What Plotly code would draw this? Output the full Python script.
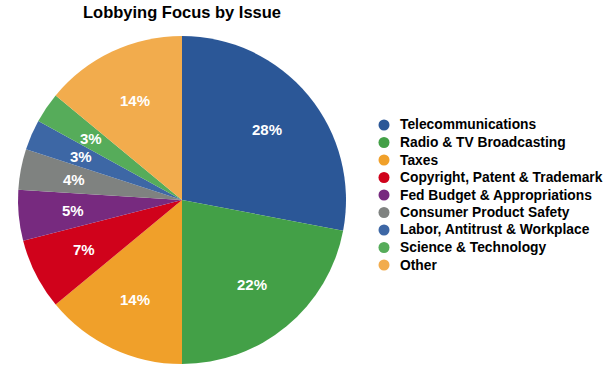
import math
import plotly.graph_objects as go

categories = ["Telecommunications", "Radio & TV Broadcasting", "Taxes",
              "Copyright, Patent & Trademark", "Fed Budget & Appropriations",
              "Consumer Product Safety", "Labor, Antitrust & Workplace",
              "Science & Technology", "Other"]
values = [28, 22, 14, 7, 5, 4, 3, 3, 14]
colors = ["#2b5797", "#43a047", "#f0a02a", "#d0021b", "#772a7f",
          "#7f8280", "#3d67a5", "#56ac5a", "#f2ac4d"]

W, H = 612, 375
cx, cy, R = 182, 200, 164
FONT = "Liberation Sans, Arial, Helvetica"

fig = go.Figure()
fig.add_trace(go.Pie(
    labels=categories, values=values, sort=False, direction="clockwise",
    rotation=0, marker=dict(colors=colors, line=dict(width=0)),
    textinfo="none", hoverinfo="label+percent", showlegend=False,
    domain=dict(x=[(cx - R) / W, (cx + R) / W], y=[(H - cy - R) / H, (H - cy + R) / H]),
))

# percentage labels inside slices
total = sum(values)
cum = 0
annotations = []
for v in values:
    mid = (cum + v / 2) / total * 2 * math.pi
    cum += v
    r = 0.67 * R
    px = cx + r * math.sin(mid)
    py = cy - r * math.cos(mid)
    annotations.append(dict(x=px / W, y=1 - py / H, xref="paper", yref="paper",
                            text=f"<b>{round(v / total * 100)}%</b>", showarrow=False,
                            font=dict(family=FONT, size=15, color="white"),
                            xanchor="center", yanchor="middle"))

# legend (circle marker + label per category)
lx, ly0, dy = 384, 125, 17.5
shapes = []
for i, (c, col) in enumerate(zip(categories, colors)):
    y = 1 - (ly0 + i * dy) / H
    shapes.append(dict(type="circle", xref="paper", yref="paper",
                       xsizemode="pixel", ysizemode="pixel",
                       xanchor=lx / W, yanchor=y, x0=-5.5, x1=5.5, y0=-5.5, y1=5.5,
                       fillcolor=col, line=dict(width=0)))
    annotations.append(dict(x=(lx + 14) / W, y=y, xref="paper", yref="paper",
                            text=f"<b>{c}</b>", showarrow=False,
                            font=dict(family=FONT, size=13.8, color="black"),
                            xanchor="left", yanchor="middle"))

fig.update_layout(
    width=W, height=H,
    margin=dict(l=0, r=0, t=0, b=0),
    paper_bgcolor="white", plot_bgcolor="white",
    showlegend=False,
    title=dict(text="<b>Lobbying Focus by Issue</b>", x=cx / W, xanchor="center",
               y=1 - 12 / H, yanchor="middle",
               font=dict(family=FONT, size=16.5, color="black")),
    annotations=annotations,
    shapes=shapes,
)

fig.write_html("out.html", config={"displayModeBar": False},
               post_script="document.body.style.margin='0';document.body.style.overflow='hidden';")
